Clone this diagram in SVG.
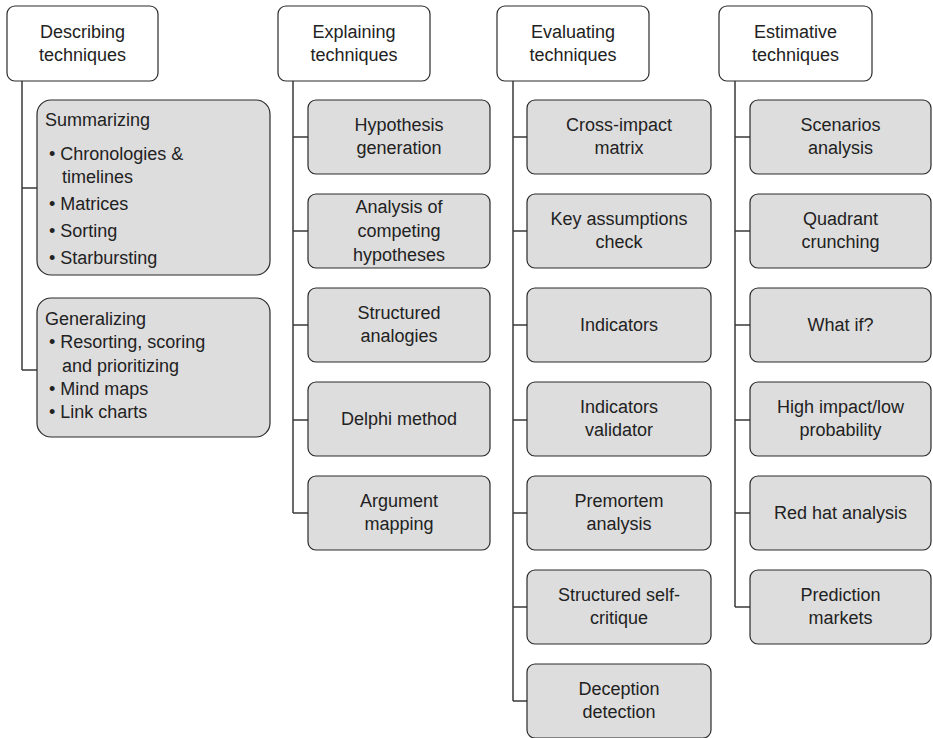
<svg xmlns="http://www.w3.org/2000/svg" width="933" height="738" viewBox="0 0 933 738">
<style>
.hdr{fill:#fff;stroke:#2a2a2a;stroke-width:1.2}
.box{fill:#dddddd;stroke:#2a2a2a;stroke-width:1.2}
.ln{fill:none;stroke:#3a3a3a;stroke-width:1.5}
text{font-family:"Liberation Sans",Arial,sans-serif;font-size:18px;fill:#222}
.c{text-anchor:middle}
</style>
<rect width="933" height="738" fill="#fff"/>
<g id="connectors">
<path class="ln" d="M22 81V370M22 188H37M22 370H37"/>
<path class="ln" d="M293 81V513M293 137H308M293 231H308M293 325H308M293 420H308M293 513H308"/>
<path class="ln" d="M513 81V701M513 137H527M513 231H527M513 325H527M513 420H527M513 513H527M513 607H527M513 701H527"/>
<path class="ln" d="M735 81V607M735 137H750M735 231H750M735 325H750M735 420H750M735 513H750M735 607H750"/>
</g>
<g id="describing">
<rect class="hdr" x="7" y="6" width="151" height="75" rx="8"/>
<text class="c" x="82.5" y="38">Describing</text>
<text class="c" x="82.5" y="61">techniques</text>
</g>
<g id="summarizing">
<rect class="box" x="37" y="100" width="233" height="175" rx="14"/>
<text x="45" y="126">Summarizing</text>
<text x="49" y="160">• Chronologies &amp;</text>
<text x="62" y="183">timelines</text>
<text x="49" y="210">• Matrices</text>
<text x="49" y="237">• Sorting</text>
<text x="49" y="264">• Starbursting</text>
</g>
<g id="generalizing">
<rect class="box" x="37" y="298" width="233" height="139" rx="14"/>
<text x="45" y="325">Generalizing</text>
<text x="49" y="348">• Resorting, scoring</text>
<text x="62" y="372">and prioritizing</text>
<text x="49" y="395">• Mind maps</text>
<text x="49" y="418">• Link charts</text>
</g>
<g id="explaining">
<rect class="hdr" x="278" y="6" width="152" height="75" rx="8"/>
<text class="c" x="354" y="38">Explaining</text>
<text class="c" x="354" y="61">techniques</text>
</g>
<g id="hypothesis-generation">
<rect class="box" x="308" y="100" width="182" height="74" rx="8"/>
<text class="c" x="399" y="131">Hypothesis</text>
<text class="c" x="399" y="154">generation</text>
</g>
<g id="ach">
<rect class="box" x="308" y="194" width="182" height="74" rx="8"/>
<text class="c" x="399" y="213">Analysis of</text>
<text class="c" x="399" y="237">competing</text>
<text class="c" x="399" y="261">hypotheses</text>
</g>
<g id="structured-analogies">
<rect class="box" x="308" y="288" width="182" height="74" rx="8"/>
<text class="c" x="399" y="319">Structured</text>
<text class="c" x="399" y="342">analogies</text>
</g>
<g id="delphi">
<rect class="box" x="308" y="382" width="182" height="74" rx="8"/>
<text class="c" x="399" y="425">Delphi method</text>
</g>
<g id="argument-mapping">
<rect class="box" x="308" y="476" width="182" height="74" rx="8"/>
<text class="c" x="399" y="507">Argument</text>
<text class="c" x="399" y="530">mapping</text>
</g>
<g id="evaluating">
<rect class="hdr" x="497" y="6" width="152" height="75" rx="8"/>
<text class="c" x="573" y="38">Evaluating</text>
<text class="c" x="573" y="61">techniques</text>
</g>
<g id="cross-impact">
<rect class="box" x="527" y="100" width="184" height="74" rx="8"/>
<text class="c" x="619" y="131">Cross-impact</text>
<text class="c" x="619" y="154">matrix</text>
</g>
<g id="key-assumptions">
<rect class="box" x="527" y="194" width="184" height="74" rx="8"/>
<text class="c" x="619" y="225">Key assumptions</text>
<text class="c" x="619" y="248">check</text>
</g>
<g id="indicators">
<rect class="box" x="527" y="288" width="184" height="74" rx="8"/>
<text class="c" x="619" y="331">Indicators</text>
</g>
<g id="indicators-validator">
<rect class="box" x="527" y="382" width="184" height="74" rx="8"/>
<text class="c" x="619" y="413">Indicators</text>
<text class="c" x="619" y="436">validator</text>
</g>
<g id="premortem">
<rect class="box" x="527" y="476" width="184" height="74" rx="8"/>
<text class="c" x="619" y="507">Premortem</text>
<text class="c" x="619" y="530">analysis</text>
</g>
<g id="self-critique">
<rect class="box" x="527" y="570" width="184" height="74" rx="8"/>
<text class="c" x="619" y="601">Structured self-</text>
<text class="c" x="619" y="624">critique</text>
</g>
<g id="deception">
<rect class="box" x="527" y="664" width="184" height="74" rx="8"/>
<text class="c" x="619" y="695">Deception</text>
<text class="c" x="619" y="718">detection</text>
</g>
<g id="estimative">
<rect class="hdr" x="719" y="6" width="153" height="75" rx="8"/>
<text class="c" x="795.5" y="38">Estimative</text>
<text class="c" x="795.5" y="61">techniques</text>
</g>
<g id="scenarios">
<rect class="box" x="750" y="100" width="181" height="74" rx="8"/>
<text class="c" x="840.5" y="131">Scenarios</text>
<text class="c" x="840.5" y="154">analysis</text>
</g>
<g id="quadrant">
<rect class="box" x="750" y="194" width="181" height="74" rx="8"/>
<text class="c" x="840.5" y="225">Quadrant</text>
<text class="c" x="840.5" y="248">crunching</text>
</g>
<g id="what-if">
<rect class="box" x="750" y="288" width="181" height="74" rx="8"/>
<text class="c" x="840.5" y="331">What if?</text>
</g>
<g id="high-impact">
<rect class="box" x="750" y="382" width="181" height="74" rx="8"/>
<text class="c" x="840.5" y="413">High impact/low</text>
<text class="c" x="840.5" y="436">probability</text>
</g>
<g id="red-hat">
<rect class="box" x="750" y="476" width="181" height="74" rx="8"/>
<text class="c" x="840.5" y="519">Red hat analysis</text>
</g>
<g id="prediction-markets">
<rect class="box" x="750" y="570" width="181" height="74" rx="8"/>
<text class="c" x="840.5" y="601">Prediction</text>
<text class="c" x="840.5" y="624">markets</text>
</g>
</svg>
